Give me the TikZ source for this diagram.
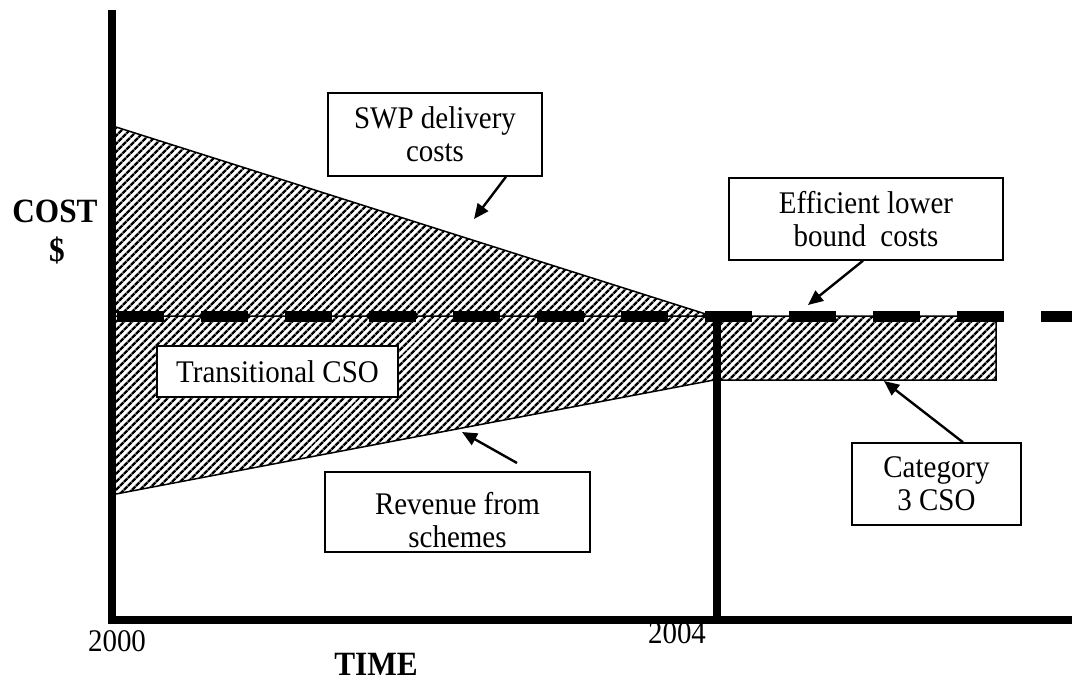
\documentclass[tikz,border=0pt]{standalone}
\usepackage{fontspec}
\setmainfont{Liberation Serif}
\newfontfamily\condserif[FakeStretch=0.92]{Liberation Serif}
\usetikzlibrary{patterns.meta,arrows.meta}
\begin{document}
\begin{tikzpicture}[x=1pt,y=-1pt,
  lbl/.style={draw=black,line width=1.4pt,fill=white,align=center,inner sep=0pt,font=\condserif\fontsize{31.5}{33}\selectfont},
  txt/.style={align=center,inner sep=0pt,font=\condserif\fontsize{31.5}{33}\selectfont},
  bigbold/.style={inner sep=0pt,font=\condserif\fontsize{34}{36}\selectfont\bfseries},
  hatch/.style={pattern={Lines[angle=45,distance=5.4pt,line width=2.7pt]}},
  arr/.style={line width=2.4pt,-{Triangle[length=15pt,width=13pt]}},
  ax/.style={line width=8pt},
  outline/.style={line width=1.5pt},
  dashline/.style={line width=11pt,dash pattern=on 47pt off 37pt}
  ]
\useasboundingbox (0,0) rectangle (1072,683);
% hatched regions
\fill[hatch] (116,127) -- (712,316) -- (116,316) -- cycle;
\fill[hatch] (116,316) -- (996,316) -- (996,380) -- (714,380) -- (116,494) -- cycle;
\draw[outline] (116,127) -- (712,316);
\draw[outline] (116,494) -- (714,380) -- (996,380) -- (996,316) -- (116,316);
% dashed lower bound line
\draw[dashline] (117,316) -- (1072,316);
% axes
\coordinate (top) at (112,10);
\coordinate (origin) at (112,620);
\coordinate (xend) at (1072,620);
\coordinate (v4top) at (717,311);
\coordinate (v4bot) at (717,620);
\draw[ax] (top) -- (origin);
\draw[ax] (108,620) -- (xend);
\draw[ax] (v4top) -- (v4bot);
% axis labels
\node[bigbold] (cost) at (55,211) {COST};
\node[bigbold] (dollar) at (57,250) {\$};
\node[txt] (y2000) at (117,641) {2000};
\node[txt] (y2004) at (677,633) {2004};
\node[bigbold] (time) at (376,664) {TIME};
% boxes
\node[lbl,minimum width=214pt,minimum height=83pt] (swp) at (435,134.5) {SWP delivery\\costs};
\node[lbl,minimum width=274pt,minimum height=82pt] (elb) at (866,219) {Efficient lower\\bound\ \ costs};
\node[lbl,minimum width=241pt,minimum height=51pt] (tcso) at (277.5,371.5) {Transitional CSO};
\node[lbl,minimum width=265pt,minimum height=80pt] (rev) at (457.5,512) {};
\begin{scope}
\clip (rev.south west) rectangle (rev.north east);
\node[txt] (revtext) at (457.5,520) {Revenue from\\schemes};
\end{scope}
\draw[line width=1.4pt] (rev.south west) rectangle (rev.north east);
\node[lbl,minimum width=169pt,minimum height=82pt] (cat) at (936.5,484) {Category\\3 CSO};
% arrow tips
\coordinate (swptip) at (474,219);
\coordinate (elbtip) at (808,305);
\coordinate (revtip) at (462,432);
\coordinate (cattip) at (884,381);
\draw[arr] (swp.south -| 506,0) -- (swptip);
\draw[arr] (elb.south -| 863,0) -- (elbtip);
\draw[arr] (517,463) coordinate (revstart) -- (revtip);
\draw[arr] (cat.north -| 963,0) -- (cattip);
\end{tikzpicture}
\end{document}
